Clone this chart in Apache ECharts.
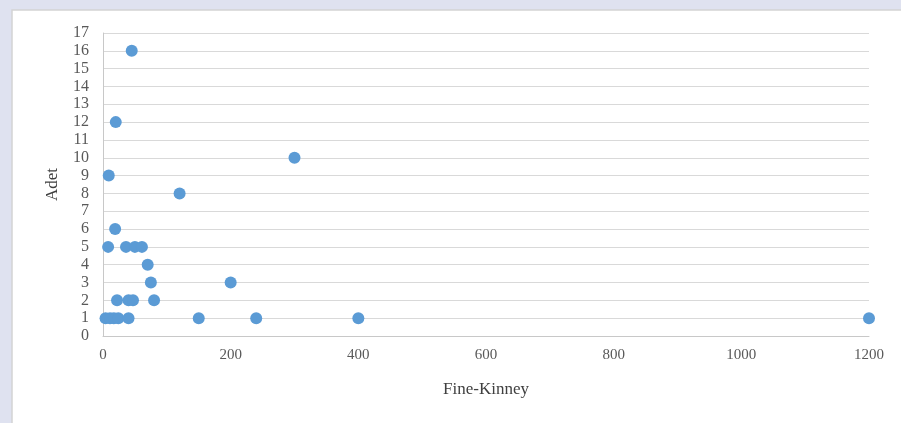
<!DOCTYPE html>
<html><head><meta charset="utf-8">
<script src="https://cdn.jsdelivr.net/npm/echarts@6/dist/echarts.min.js"></script>
<style>html,body{margin:0;padding:0;background:#dfe2f0;}#c{width:901px;height:423px;}</style>
</head><body><div id="c"></div>
<script>
const fineKinney = [45, 20, 9, 300, 120, 19, 8, 36, 50, 61, 70, 75, 200, 22, 40, 47, 80, 4, 11, 17, 24, 40, 150, 240, 400, 1200];
const adet =       [16, 12, 9, 10, 8, 6, 5, 5, 5, 5, 4, 3, 3, 2, 2, 2, 2, 1, 1, 1, 1, 1, 1, 1, 1, 1];
const points = fineKinney.map((x, i) => [x, adet[i]]);
const font = '"Liberation Serif", "Times New Roman", serif';
const chart = echarts.init(document.getElementById('c'));
chart.setOption({
  animation: false,
  backgroundColor: '#dfe2f0',
  graphic: [{type: 'rect', shape: {x: 12, y: 10, width: 900, height: 420}, style: {fill: '#ffffff', stroke: '#d4d4d4', lineWidth: 1.5}, z: -10}],
  grid: {left: 103, right: 32, top: 33, bottom: 87},
  xAxis: {
    type: 'value', min: 0, max: 1200, interval: 200,
    name: 'Fine-Kinney', nameLocation: 'middle', nameGap: 45,
    nameTextStyle: {fontFamily: font, fontSize: 17, color: '#404040'},
    axisLine: {show: true, lineStyle: {color: '#c8c8c8', width: 1}},
    axisTick: {show: false},
    axisLabel: {fontFamily: font, fontSize: 15, color: '#595959', margin: 12, formatter: v => String(v)},
    splitLine: {show: false}
  },
  yAxis: {
    type: 'value', min: 0, max: 17, interval: 1,
    name: 'Adet', nameLocation: 'middle', nameGap: 42, nameRotate: 90,
    nameTextStyle: {fontFamily: font, fontSize: 17, color: '#404040'},
    axisLine: {show: true, lineStyle: {color: '#c8c8c8', width: 1}},
    axisTick: {show: false},
    axisLabel: {fontFamily: font, fontSize: 16, color: '#595959', margin: 14, lineHeight: 16},
    splitLine: {show: true, lineStyle: {color: '#d9d9d9', width: 1}}
  },
  series: [{
    type: 'scatter', data: points, symbolSize: 12,
    itemStyle: {color: '#5b9bd5', opacity: 1}
  }]
});
</script></body></html>
